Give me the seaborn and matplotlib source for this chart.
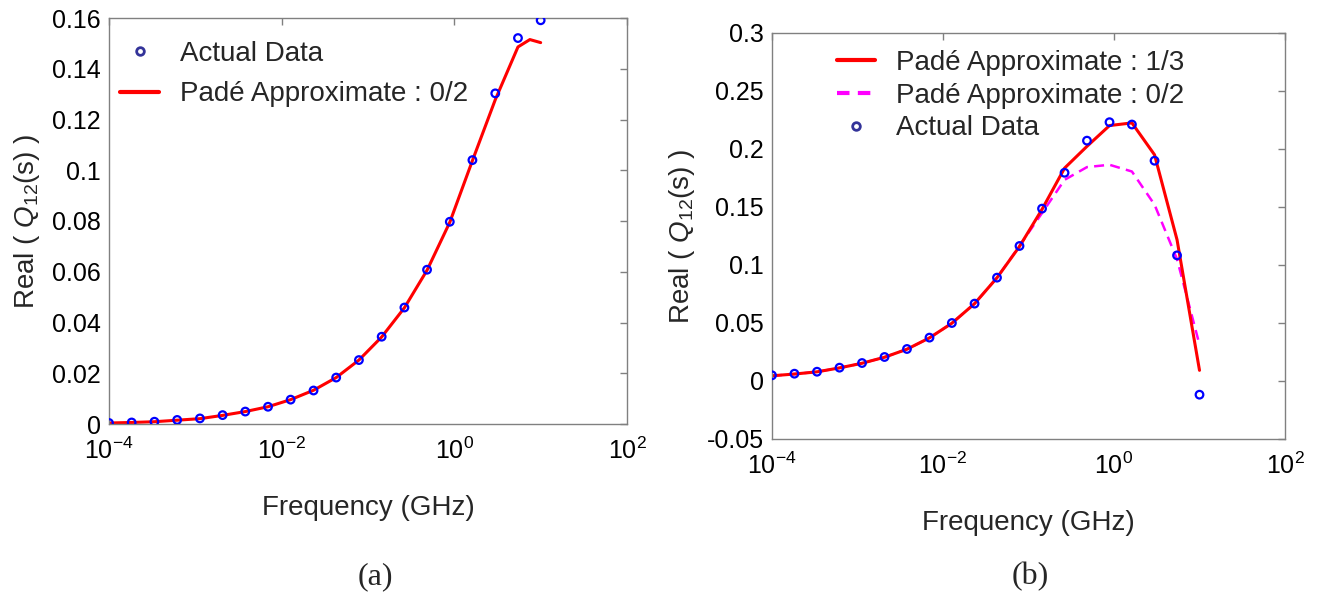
import matplotlib
matplotlib.use("Agg")
import matplotlib.pyplot as plt
import matplotlib.ticker as mticker
from matplotlib.lines import Line2D
import seaborn as sns
import pandas as pd

# ---------------- data ----------------
freq = [1.00e-4, 1.83e-4, 3.36e-4, 6.16e-4, 1.13e-3, 2.07e-3, 3.79e-3, 6.95e-3,
        1.27e-2, 2.34e-2, 4.28e-2, 7.85e-2, 0.144, 0.264, 0.483, 0.886,
        1.62, 2.98, 5.46, 10.0]

# (a)
actual_a = [0.0004, 0.0006, 0.0009, 0.0016, 0.0022, 0.0035, 0.0049, 0.0068,
            0.0096, 0.0132, 0.0183, 0.0252, 0.0344, 0.0459, 0.0608, 0.0797,
            0.1040, 0.1303, 0.1521, 0.1591]
freq_pade_a = [1.00e-4, 1.83e-4, 3.36e-4, 6.16e-4, 1.13e-3, 2.07e-3, 3.79e-3, 6.95e-3,
               1.27e-2, 2.34e-2, 4.28e-2, 7.85e-2, 0.144, 0.264, 0.483, 0.886,
               1.62, 2.98, 5.46, 7.5, 10.0]
pade02_a = [0.0004, 0.0006, 0.0009, 0.0015, 0.0021, 0.0034, 0.0049, 0.0068,
            0.0096, 0.0133, 0.0183, 0.0252, 0.0343, 0.0458, 0.0606, 0.0795,
            0.1038, 0.1278, 0.1486, 0.1515, 0.1503]

# (b)
actual_b = [0.0049, 0.0063, 0.0080, 0.0115, 0.0155, 0.0207, 0.0276, 0.0374,
            0.0500, 0.0667, 0.0891, 0.1164, 0.1486, 0.1795, 0.2072, 0.2231,
            0.2211, 0.1899, 0.1083, -0.0118]
pade13_b = [0.0045, 0.0060, 0.0079, 0.0113, 0.0153, 0.0205, 0.0274, 0.0372,
            0.0498, 0.0667, 0.0890, 0.1160, 0.1480, 0.1835, 0.2023, 0.2202,
            0.2225, 0.1950, 0.1218, 0.0092]
pade02_b = [0.0045, 0.0060, 0.0079, 0.0113, 0.0153, 0.0205, 0.0274, 0.0372,
            0.0498, 0.0667, 0.0890, 0.1165, 0.1448, 0.1734, 0.1844, 0.1864,
            0.1806, 0.1520, 0.1050, 0.0313]

yticks_a = [0, 0.02, 0.04, 0.06, 0.08, 0.10, 0.12, 0.14, 0.16]
yticks_b = [-0.05, 0, 0.05, 0.10, 0.15, 0.20, 0.25, 0.30]
xticks = [1e-4, 1e-2, 1e0, 1e2]

lab_actual = "Actual Data"
lab_02 = "Padé Approximate : 0/2"
lab_13 = "Padé Approximate : 1/3"
xlabel = "Frequency (GHz)"
ylabel = r"Real ( $Q_{12}$(s) )"

# ---------------- style ----------------
sns.set_theme(style="white")
plt.rcParams["font.family"] = ["Liberation Sans", "DejaVu Sans"]
plt.rcParams["mathtext.fontset"] = "custom"
plt.rcParams["mathtext.rm"] = "Liberation Sans"
plt.rcParams["mathtext.it"] = "Liberation Sans:italic"
plt.rcParams["mathtext.bf"] = "Liberation Sans:bold"

BLUE = "#0000ff"
RED = "#ff0000"
MAG = "#ff00ff"
SPINE = "#808080"

fig = plt.figure(figsize=(13.2, 5.97), dpi=100)
axA = fig.add_axes([109 / 1320, 1 - 424 / 597, 518 / 1320, 406 / 597])
axB = fig.add_axes([772 / 1320, 1 - 439 / 597, 513 / 1320, 406 / 597])

df_a = pd.DataFrame({"f": freq, "v": actual_a})
df_pa = pd.DataFrame({"f": freq_pade_a, "v": pade02_a})
df_b = pd.DataFrame({"f": freq, "act": actual_b, "p13": pade13_b, "p02": pade02_b})

# (a)
sns.lineplot(data=df_pa, x="f", y="v", ax=axA, color=RED, lw=2.2,
             estimator=None, sort=False)
sns.scatterplot(data=df_a, x="f", y="v", ax=axA, marker="o", s=30,
                facecolors="none", edgecolor=BLUE, linewidth=1.6, zorder=3)

# (b)
sns.lineplot(data=df_b, x="f", y="p02", ax=axB, color=MAG, lw=1.8,
             estimator=None, sort=False, dashes=False, linestyle=(0, (4, 2.5)))
sns.lineplot(data=df_b, x="f", y="p13", ax=axB, color=RED, lw=2.2,
             estimator=None, sort=False)
sns.scatterplot(data=df_b, x="f", y="act", ax=axB, marker="o", s=30,
                facecolors="none", edgecolor=BLUE, linewidth=1.6, zorder=3)

fmt = mticker.FuncFormatter(lambda v, p: "0" if abs(v) < 1e-12 else ("%g" % round(v, 4)))

for ax, yt, lim in [(axA, yticks_a, (0, 0.16)), (axB, yticks_b, (-0.05, 0.3))]:
    ax.set_xscale("log")
    ax.set_xlim(1e-4, 1e2)
    ax.set_ylim(*lim)
    ax.set_xticks(xticks)
    ax.xaxis.set_major_formatter(mticker.LogFormatterMathtext())
    ax.xaxis.set_minor_locator(mticker.NullLocator())
    ax.set_yticks(yt)
    ax.yaxis.set_major_formatter(fmt)
    for s in ax.spines.values():
        s.set_visible(True)
        s.set_color(SPINE)
        s.set_linewidth(1.0)
    ax.tick_params(axis="both", which="major", direction="in", length=5,
                   width=1, color=SPINE, top=True, right=True,
                   labelsize=18, labelcolor="black", pad=6)
    ax.tick_params(axis="x", pad=10)
    ax.set_xlabel(xlabel, fontsize=20, labelpad=22)
    ax.set_ylabel(ylabel, fontsize=20, labelpad=7)
    ax.grid(False)

# legends
hA = [Line2D([], [], ls="none", marker="o", ms=5.5, mfc="none", mec="#333399", mew=2.0),
      Line2D([], [], color=RED, lw=3)]
axA.legend(hA, [lab_actual, lab_02], loc="upper left", bbox_to_anchor=(0.021, 0.943),
           frameon=False, fontsize=20, handlelength=1.42, handletextpad=0.75,
           labelspacing=0.51, borderaxespad=0, borderpad=0)

hB = [Line2D([], [], color=RED, lw=3),
      Line2D([], [], color=MAG, lw=3, ls=(0, (3, 2))),
      Line2D([], [], ls="none", marker="o", ms=5.5, mfc="none", mec="#333399", mew=2.0)]
axB.legend(hB, [lab_13, lab_02, lab_actual], loc="upper left", bbox_to_anchor=(0.127, 0.958),
           frameon=False, fontsize=20, handlelength=1.38, handletextpad=0.75,
           labelspacing=0.24, borderaxespad=0, borderpad=0)

fig.text(375 / 1320, 1 - 577 / 597, "(a)", ha="center", va="center",
         fontsize=23, family=["Liberation Serif", "DejaVu Serif"])
fig.text(1030 / 1320, 1 - 577 / 597, "(b)", ha="center", va="center",
         fontsize=23, family=["Liberation Serif", "DejaVu Serif"])

fig.savefig("out.png", dpi=100)
